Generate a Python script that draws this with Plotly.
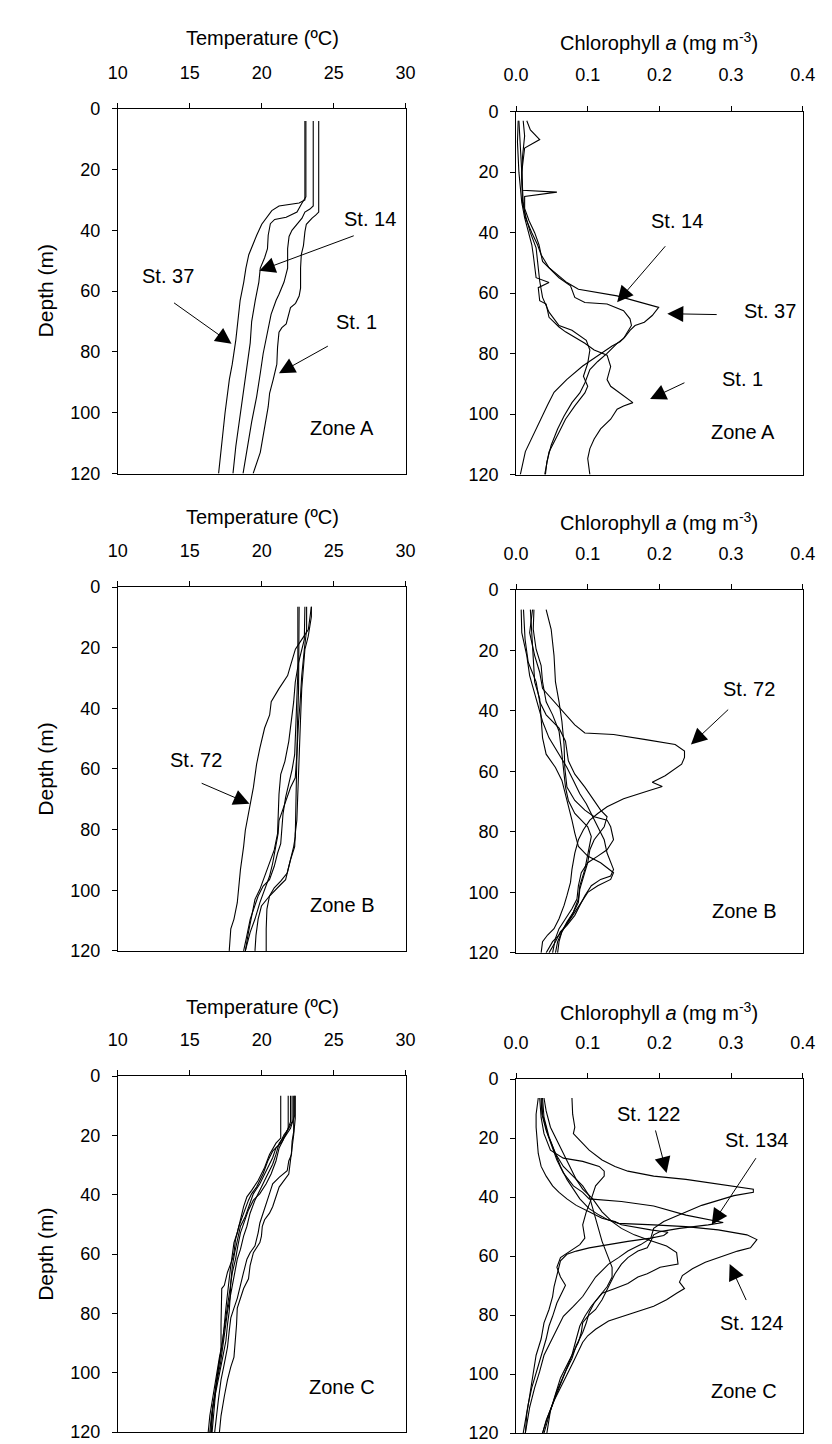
import plotly.graph_objects as go

W, H = 832, 1444
FONT = "Liberation Sans, Arial, sans-serif"

# ---------------- tick values / labels ----------------
T_TICKS = [10, 15, 20, 25, 30]
T_TICK_TEXT = ["10", "15", "20", "25", "30"]
C_TICKS = [0.0, 0.1, 0.2, 0.3, 0.4]
C_TICK_TEXT = ["0.0", "0.1", "0.2", "0.3", "0.4"]
D_TICKS = [0, 20, 40, 60, 80, 100, 120]
D_TICK_TEXT = ["0", "20", "40", "60", "80", "100", "120"]

# ---------------- Zone A : temperature ----------------
A_T37_d = [4, 30, 31, 32, 33.5, 36, 38, 41.6, 46, 48, 52.4, 57, 63, 67.6, 76, 84, 89, 100, 111, 120]
A_T37_v = [23.0, 23.0, 22.6, 21.2, 20.7, 20.3, 20.0, 19.65, 19.3, 19.1, 18.9, 18.75, 18.5, 18.4, 18.2, 17.95, 17.75, 17.45, 17.2, 17.0]
A_T14_d = [4, 29, 31, 34, 35.7, 36.4, 37.8, 41.6, 46, 49, 52.4, 57, 63, 70, 77, 84, 91, 100, 111, 120]
A_T14_v = [23.07, 23.07, 22.8, 22.45, 21.7, 20.9, 20.6, 20.45, 20.4, 20.2, 19.9, 19.8, 19.55, 19.3, 19.2, 19.0, 18.75, 18.5, 18.2, 18.0]
A_Tx_d = [4, 32, 33, 34, 36, 38, 40, 42, 46, 52.4, 57, 61, 63, 67.6, 74, 80.5, 87, 94.6, 103, 112, 120]
A_Tx_v = [23.58, 23.58, 23.35, 23.0, 22.8, 22.45, 22.1, 21.9, 21.8, 21.8, 21.55, 21.2, 21.0, 20.65, 20.4, 20.1, 19.9, 19.65, 19.3, 19.0, 18.7]
A_T1_d = [4, 34, 35, 36, 38, 40.5, 45, 48, 52.4, 59, 61.6, 64, 65.4, 68.6, 70.8, 72, 73.5, 78.4, 84, 89, 93.5, 98, 105.4, 113, 120]
A_T1_v = [23.96, 23.96, 23.75, 23.5, 23.1, 23.0, 22.9, 22.75, 22.7, 22.7, 22.6, 22.35, 22.0, 21.85, 21.7, 21.4, 21.2, 21.1, 21.05, 20.8, 20.55, 20.45, 20.2, 19.9, 19.4]

# ---------------- Zone A : chlorophyll ----------------
A_C37_d = [3, 10, 20, 30, 35, 40, 44, 47.3, 51.6, 56.5, 58.7, 60.9, 64.1, 64.7, 67.4, 69.6, 70.7, 72.3, 74.5, 76.1, 77.5, 80.3, 84.1, 88.5, 92.8, 97, 101.5, 107, 112.4, 120]
A_C37_v = [0.004, 0.006, 0.008, 0.010, 0.013, 0.022, 0.030, 0.035, 0.046, 0.071, 0.087, 0.141, 0.190, 0.199, 0.190, 0.179, 0.166, 0.159, 0.152, 0.145, 0.134, 0.116, 0.093, 0.071, 0.053, 0.044, 0.035, 0.024, 0.013, 0.006]
A_C14_d = [3, 8, 15, 22, 26, 26.6, 28, 32, 36, 40, 44, 49.5, 54.9, 57.6, 61.4, 63.1, 63.6, 65.8, 68.5, 70.7, 73.4, 75.0, 76.6, 79.9, 82.6, 85.3, 89.7, 93, 96.2, 100.6, 104.9, 110.3, 115.8, 120]
A_C14_v = [0.010, 0.012, 0.009, 0.008, 0.009, 0.057, 0.012, 0.012, 0.018, 0.026, 0.032, 0.037, 0.060, 0.076, 0.082, 0.096, 0.127, 0.150, 0.159, 0.161, 0.154, 0.150, 0.141, 0.127, 0.114, 0.103, 0.096, 0.089, 0.078, 0.067, 0.058, 0.049, 0.043, 0.041]
A_C1_d = [3, 10, 20, 30, 35, 40, 44, 47.3, 54.9, 56.5, 58.2, 62.5, 63.6, 68, 71.2, 72.8, 76.6, 78.8, 80.5, 84.3, 88.6, 90.8, 94.0, 96.2, 97.3, 98.4, 101.7, 104.9, 108.2, 111.4, 114.7, 120]
A_C1_v = [0.003, 0.002, 0.004, 0.008, 0.012, 0.018, 0.022, 0.024, 0.028, 0.046, 0.031, 0.033, 0.042, 0.046, 0.060, 0.069, 0.096, 0.109, 0.127, 0.132, 0.127, 0.132, 0.150, 0.163, 0.150, 0.141, 0.132, 0.118, 0.109, 0.103, 0.100, 0.103]
A_Cx_d = [3, 6, 9.2, 12, 20, 30, 35, 40, 45, 56, 61.4, 66.3, 70.7, 72.3, 75.6, 78.8, 83.2, 87.5, 90.8, 93, 97.3, 101.7, 106, 112.5, 120]
A_Cx_v = [0.015, 0.020, 0.033, 0.012, 0.008, 0.009, 0.014, 0.020, 0.028, 0.033, 0.037, 0.046, 0.060, 0.078, 0.098, 0.103, 0.100, 0.094, 0.100, 0.096, 0.082, 0.069, 0.060, 0.046, 0.040]

# ---------------- Zone B : temperature ----------------
B_T72_d = [6.5, 14, 17.2, 20.5, 25.9, 29.2, 33.5, 37.8, 42.2, 46.5, 53.1, 58.5, 66.1, 71.5, 77, 80.2, 85.6, 93.2, 104.1, 109.5, 112.7, 120]
B_T72_v = [23.45, 23.24, 22.8, 22.34, 22.0, 21.8, 21.2, 20.66, 20.55, 20.2, 19.87, 19.64, 19.42, 19.2, 18.97, 18.86, 18.74, 18.52, 18.3, 18.07, 17.85, 17.74]
B_T2_d = [6.5, 14.1, 20.6, 29.3, 37.9, 44.4, 55.3, 62.9, 66.1, 70.5, 74.8, 77, 81.3, 85.6, 91.1, 95.4, 99.7, 104.1, 109.5, 113.8, 120]
B_T2_v = [23.12, 23.12, 22.96, 22.78, 22.67, 22.56, 22.44, 22.33, 22.0, 21.66, 21.32, 21.2, 21.14, 20.99, 20.76, 20.54, 20.2, 19.87, 19.53, 19.2, 18.86]
B_T3_d = [6.5, 22.8, 33.6, 44.4, 55.3, 66.1, 77, 82.4, 85.6, 90, 94.3, 97, 99.2, 101.9, 106.2, 112.7, 120]
B_T3_v = [22.6, 22.6, 22.56, 22.49, 22.44, 22.4, 22.38, 22.33, 22.22, 22.0, 21.77, 21.32, 20.87, 20.54, 20.36, 20.31, 20.31]
B_T4_d = [6.5, 28.2, 44.4, 55.3, 60.2, 64, 69.4, 74.8, 80.2, 84.6, 87.8, 92.1, 96.5, 98.6, 101.9, 105.2, 109.5, 114.9, 120]
B_T4_v = [22.51, 22.51, 22.38, 22.29, 22.11, 21.93, 21.66, 21.48, 21.39, 21.32, 21.1, 20.87, 20.54, 20.1, 19.75, 19.53, 19.2, 18.97, 18.74]
B_T5_d = [6.5, 9.8, 16.3, 20.6, 27.1, 33.6, 44.4, 55.3, 66.1, 77, 81.3, 85.6, 90, 94.3, 96.5, 98.1, 99.7, 101.9, 105.2, 109.5, 114.9, 120]
B_T5_v = [23.45, 23.45, 23.23, 23.0, 22.89, 22.78, 22.69, 22.6, 22.51, 22.44, 22.33, 22.29, 22.0, 21.77, 21.66, 21.32, 20.99, 20.54, 19.98, 19.75, 19.6, 19.53]
B_T6_d = [6.5, 17.3, 24.9, 31.4, 37.9, 44.4, 50.9, 57.5, 61.8, 68.3, 74.8, 81.3, 86.7, 91.1, 95.4, 99.7, 103, 108.4, 113.8, 120]
B_T6_v = [23.0, 22.96, 22.56, 22.33, 22.22, 22.06, 21.88, 21.61, 21.32, 21.2, 21.14, 21.1, 20.87, 20.54, 20.2, 19.87, 19.53, 19.3, 19.08, 18.86]

# ---------------- Zone B : chlorophyll ----------------
B_C72_d = [6.5, 14.1, 21.7, 27.2, 32.6, 38.6, 41.3, 44.6, 47.3, 47.8, 49.5, 51.1, 53.3, 55.4, 57.6, 59.2, 61.4, 63.6, 65.0, 66.3, 67.4, 69, 71.7, 73.9, 76.1, 79.3, 82.6, 87, 92.4, 96.7, 101.1, 104.3, 108.7, 112, 114.1, 116.3, 120]
B_C72_v = [0.023, 0.019, 0.026, 0.033, 0.037, 0.060, 0.069, 0.082, 0.096, 0.136, 0.181, 0.222, 0.235, 0.235, 0.231, 0.222, 0.208, 0.190, 0.204, 0.186, 0.172, 0.150, 0.127, 0.114, 0.103, 0.094, 0.087, 0.082, 0.078, 0.076, 0.071, 0.067, 0.060, 0.053, 0.044, 0.037, 0.035]
B_C2_d = [6.5, 13, 21.7, 30.4, 37, 43.5, 51.1, 58.7, 65.2, 69.6, 72.8, 75, 76.1, 78.3, 82.6, 85.9, 88, 90.2, 93.5, 97.8, 102.2, 105.4, 108.7, 112, 115.2, 120]
B_C2_v = [0.042, 0.049, 0.053, 0.055, 0.060, 0.064, 0.067, 0.068, 0.071, 0.082, 0.096, 0.109, 0.127, 0.132, 0.136, 0.127, 0.114, 0.100, 0.091, 0.087, 0.085, 0.078, 0.069, 0.060, 0.055, 0.051]
B_C3_d = [6.5, 14.1, 21.7, 28.3, 35.9, 43.5, 48.9, 54.3, 58.7, 63, 67.4, 70.7, 73.9, 78.3, 82.6, 87, 92.4, 94.6, 95.7, 97.8, 101.1, 104.3, 107.6, 110.9, 113, 116.3, 120]
B_C3_v = [0.0072, 0.008, 0.015, 0.019, 0.028, 0.037, 0.046, 0.060, 0.071, 0.080, 0.089, 0.098, 0.105, 0.114, 0.123, 0.127, 0.136, 0.132, 0.118, 0.105, 0.096, 0.089, 0.082, 0.071, 0.062, 0.055, 0.046]
B_C4_d = [6.5, 16.3, 23.9, 30.4, 37, 41.3, 45.7, 50, 56.5, 60.9, 65.2, 69.6, 72.8, 75, 78.3, 82.6, 85.9, 90.2, 94.6, 98.9, 103.3, 107.6, 110.9, 114.1, 116.3, 120]
B_C4_v = [0.0104, 0.0126, 0.017, 0.028, 0.033, 0.042, 0.060, 0.069, 0.073, 0.082, 0.096, 0.109, 0.118, 0.127, 0.123, 0.109, 0.103, 0.100, 0.094, 0.089, 0.087, 0.078, 0.069, 0.060, 0.051, 0.042]
B_C5_d = [6.5, 15.2, 23.9, 30.4, 35.9, 42.4, 48.9, 54.3, 58.7, 63, 67.4, 71.7, 76.1, 80.4, 84.8, 88, 90.2, 93.5, 95.7, 97.8, 100, 103.3, 106.5, 109.8, 113, 116.3, 120]
B_C5_v = [0.020, 0.022, 0.024, 0.026, 0.033, 0.035, 0.037, 0.042, 0.055, 0.064, 0.069, 0.073, 0.078, 0.082, 0.087, 0.100, 0.118, 0.136, 0.132, 0.114, 0.100, 0.091, 0.082, 0.073, 0.064, 0.058, 0.055]
B_C6_d = [6.5, 13, 19.6, 25, 30.4, 37, 41.3, 46.7, 54.3, 60.9, 65.2, 69.6, 73.9, 76.1, 78.3, 81.5, 87, 92.4, 97.8, 102.2, 106.5, 109.8, 113, 116.3, 120]
B_C6_v = [0.025, 0.024, 0.028, 0.035, 0.037, 0.042, 0.051, 0.060, 0.064, 0.067, 0.069, 0.073, 0.082, 0.091, 0.100, 0.105, 0.100, 0.096, 0.089, 0.087, 0.080, 0.071, 0.064, 0.060, 0.058]

# ---------------- Zone C : temperature ----------------
C_T1_d = [6.6, 20.9, 22.6, 26.4, 30.8, 35.2, 38.5, 40.7, 44, 48.4, 52.8, 56.1, 59.5, 63.9, 68.3, 72.7, 78.2, 83.7, 89.2, 94.7, 101.3, 107.9, 114.5, 120]
C_T1_v = [21.32, 21.32, 20.99, 20.54, 20.2, 19.75, 19.3, 18.97, 18.74, 18.52, 18.3, 18.07, 17.96, 17.85, 17.74, 17.62, 17.51, 17.4, 17.29, 17.06, 16.84, 16.61, 16.39, 16.28]
C_T2_d = [6.6, 14.3, 19.8, 24.2, 28.6, 33, 37.4, 40.7, 44, 46.2, 48.4, 50.6, 53.9, 56.1, 59.5, 63.9, 68.3, 71.6, 74.9, 78.2, 83.7, 89.2, 94.7, 98, 102.4, 107.9, 114.5, 120]
C_T2_v = [22.33, 22.33, 22.22, 22.11, 22.0, 21.88, 21.21, 20.99, 20.76, 20.54, 20.2, 20.04, 19.98, 19.87, 19.42, 19.19, 19.08, 18.74, 18.52, 18.3, 18.25, 18.18, 18.07, 17.85, 17.62, 17.4, 17.17, 17.06]
C_T3_d = [6.6, 17.6, 22, 24.2, 27.5, 31.9, 36.3, 39.6, 44, 47.3, 50.6, 55, 59.5, 63.9, 69.4, 74.9, 79.3, 83.7, 89.2, 94.7, 100.2, 105.7, 111.2, 120]
C_T3_v = [21.84, 21.84, 21.43, 20.99, 20.76, 20.31, 19.87, 19.42, 19.08, 18.86, 18.52, 18.3, 18.12, 17.96, 17.85, 17.8, 17.74, 17.62, 17.51, 17.29, 17.06, 16.84, 16.61, 16.5]
C_T4_d = [6.6, 15.4, 19.8, 22.6, 26.4, 29.7, 34.1, 38.5, 41.8, 46.2, 50.6, 53.9, 58.4, 61.7, 65, 68.3, 73.8, 79.3, 85.9, 91.4, 96.9, 102.4, 109, 114.5, 120]
C_T4_v = [22.0, 22.0, 21.66, 21.21, 20.99, 20.76, 20.31, 19.87, 19.53, 19.19, 18.97, 18.74, 18.52, 18.3, 18.18, 18.07, 17.85, 17.62, 17.44, 17.29, 17.13, 16.9, 16.68, 16.5, 16.39]
C_T5_d = [6.6, 14.3, 18.7, 22, 26.4, 28.6, 31.9, 34.1, 36.3, 39.6, 42.9, 46.2, 49.5, 52.8, 57.2, 59.5, 61.7, 66.1, 70.5, 74.9, 78.2, 81.5, 85.9, 91.4, 96.9, 102.4, 109, 114.5, 120]
C_T5_v = [22.22, 22.22, 22.22, 22.11, 22.07, 21.88, 21.77, 21.21, 20.76, 20.54, 20.31, 20.09, 19.87, 19.75, 19.53, 19.19, 18.97, 18.74, 18.52, 18.3, 18.07, 17.85, 17.74, 17.62, 17.4, 17.17, 16.99, 16.84, 16.73]
C_T6_d = [6.6, 15.4, 17.6, 19.8, 23.1, 25.3, 28.6, 33, 37.4, 39.6, 41.8, 46.2, 50.6, 55, 59.5, 61.7, 66.1, 70.5, 71.6, 83.7, 92.5, 98, 103.5, 110.1, 120]
C_T6_v = [22.11, 22.11, 21.88, 21.55, 21.21, 20.76, 20.42, 20.09, 19.64, 19.3, 19.08, 18.74, 18.41, 18.18, 18.07, 17.96, 17.62, 17.4, 17.22, 17.17, 17.17, 16.99, 16.84, 16.73, 16.55]
C_T7_d = [6.6, 13.2, 17.6, 20.9, 24.2, 28.6, 33, 36.3, 39.6, 41.8, 45.1, 49.5, 52.8, 57.2, 61.7, 66.1, 71.6, 77.1, 83.7, 89.2, 94.7, 100.2, 106.8, 113.4, 120]
C_T7_v = [22.29, 22.29, 22.0, 21.55, 21.21, 20.99, 20.65, 20.31, 19.87, 19.42, 19.08, 18.74, 18.52, 18.34, 18.18, 17.96, 17.8, 17.62, 17.44, 17.29, 17.13, 16.95, 16.73, 16.55, 16.46]

# ---------------- Zone C : chlorophyll ----------------
C_C122_d = [6.4, 11.9, 16.3, 18.5, 20.8, 24.1, 27.4, 29.6, 31.2, 32.9, 34, 35.7, 37.3, 38.4, 39.5, 42.8, 46.1, 48.3, 50.6, 53.9, 56.1, 58.3, 60.5, 62.7, 64.9, 67.1, 70.4, 73.7, 77, 80.4, 84.8, 89.2, 93.6, 99.1, 104.6, 111.3, 120]
C_C122_v = [0.078, 0.079, 0.082, 0.080, 0.089, 0.102, 0.120, 0.138, 0.156, 0.192, 0.237, 0.282, 0.331, 0.331, 0.304, 0.259, 0.228, 0.206, 0.192, 0.188, 0.174, 0.156, 0.143, 0.129, 0.120, 0.111, 0.102, 0.093, 0.080, 0.066, 0.057, 0.048, 0.039, 0.033, 0.026, 0.019, 0.013]
C_C124_d = [6.4, 11.9, 18.5, 24.1, 29.6, 34, 37.3, 40.6, 43.9, 46.1, 47.8, 48.9, 49.4, 50, 51.1, 52.8, 54.4, 57.2, 58.3, 60.5, 62.1, 64.3, 66.6, 68.8, 71, 72.6, 74.8, 77, 78.7, 80.4, 82, 84.8, 87, 89.2, 92.5, 95.8, 100.2, 104.6, 109, 114.6, 120]
C_C124_v = [0.036, 0.037, 0.044, 0.053, 0.062, 0.071, 0.080, 0.089, 0.102, 0.116, 0.129, 0.143, 0.192, 0.237, 0.282, 0.322, 0.336, 0.327, 0.309, 0.282, 0.264, 0.246, 0.232, 0.228, 0.235, 0.224, 0.210, 0.192, 0.170, 0.147, 0.129, 0.111, 0.100, 0.093, 0.087, 0.080, 0.071, 0.062, 0.053, 0.044, 0.037]
C_C134_d = [6.4, 11.9, 17.4, 23, 27.4, 31.8, 36.2, 38.4, 40.6, 41.5, 43, 46.1, 47.8, 48.6, 49.4, 50.6, 51.7, 52.8, 55, 57.2, 58.3, 60.5, 62.7, 66, 70.4, 74.8, 78.1, 80.4, 82.6, 85.9, 89.2, 92.5, 96.9, 101.3, 106.8, 112.4, 120]
C_C134_v = [0.035, 0.036, 0.042, 0.051, 0.057, 0.066, 0.080, 0.093, 0.102, 0.147, 0.192, 0.237, 0.273, 0.289, 0.268, 0.228, 0.201, 0.192, 0.188, 0.183, 0.170, 0.156, 0.147, 0.138, 0.129, 0.120, 0.111, 0.100, 0.093, 0.091, 0.087, 0.080, 0.071, 0.062, 0.055, 0.048, 0.043]
C_C4_d = [6.4, 10.8, 16.3, 20.8, 25.2, 29.6, 34, 37.3, 40.6, 45, 48.3, 50.6, 52.8, 54.4, 55.5, 56.6, 58.8, 62.7, 63.8, 66, 67.1, 69.3, 71, 72.6, 75.9, 79.2, 82.6, 85.9, 90.3, 94.7, 99.1, 104.6, 110.2, 115.7, 120]
C_C4_v = [0.039, 0.042, 0.048, 0.057, 0.066, 0.075, 0.084, 0.093, 0.107, 0.120, 0.134, 0.147, 0.165, 0.183, 0.197, 0.210, 0.224, 0.226, 0.201, 0.183, 0.170, 0.156, 0.138, 0.120, 0.109, 0.102, 0.098, 0.093, 0.084, 0.078, 0.069, 0.060, 0.051, 0.042, 0.037]
C_C5_d = [6.4, 13, 18.5, 24.1, 26.8, 27.9, 29.6, 31.2, 32.9, 36.2, 40.6, 45, 49.4, 53.9, 56.1, 58.3, 60.5, 63.8, 67.1, 69.9, 72.6, 75.9, 80.4, 83.7, 88.1, 93.6, 99.1, 104.6, 110.2, 115.7, 120]
C_C5_v = [0.033, 0.035, 0.039, 0.048, 0.066, 0.093, 0.116, 0.123, 0.123, 0.111, 0.105, 0.098, 0.093, 0.096, 0.089, 0.075, 0.062, 0.057, 0.062, 0.069, 0.064, 0.057, 0.051, 0.046, 0.042, 0.035, 0.028, 0.022, 0.017, 0.013, 0.010]
C_C6_d = [6.4, 11.9, 16.3, 20.8, 25.2, 29.6, 32.9, 36.2, 38.4, 40.6, 42.8, 45, 47.2, 48.3, 49.4, 51.1, 51.9, 53, 53.9, 55, 56.1, 57.2, 58.3, 59.4, 61.6, 66, 70.4, 73.7, 78.1, 82.6, 88.1, 93.6, 100.2, 106.8, 113.5, 120]
C_C6_v = [0.031, 0.028, 0.028, 0.030, 0.031, 0.035, 0.042, 0.051, 0.060, 0.071, 0.084, 0.102, 0.120, 0.138, 0.147, 0.188, 0.212, 0.206, 0.188, 0.156, 0.129, 0.102, 0.084, 0.071, 0.062, 0.057, 0.053, 0.051, 0.046, 0.039, 0.035, 0.028, 0.024, 0.019, 0.015, 0.013]
C_C7_d = [6.4, 13, 19.6, 25.2, 29.6, 32.9, 36.2, 39.5, 43.9, 49.4, 55, 59.4, 63.8, 67.1, 70.4, 73.7, 77, 80.4, 83.7, 88.1, 93.6, 99.1, 105.7, 112.4, 120]
C_C7_v = [0.037, 0.039, 0.046, 0.055, 0.066, 0.080, 0.093, 0.102, 0.107, 0.114, 0.120, 0.127, 0.134, 0.134, 0.127, 0.116, 0.105, 0.096, 0.089, 0.084, 0.078, 0.069, 0.057, 0.048, 0.039]

# ---------------- layout geometry (pixels) ----------------
def xd(l, r):
    return [l / W, r / W]


def yd(t, b):
    return [1 - b / H, 1 - t / H]


panels = [
    # (x domain px, y domain px, kind)
    ((100, 397), (92, 462), "T"),
    ((511, 807), (95, 463), "C"),
    ((100, 397), (577, 946), "T"),
    ((511, 807), (580, 948), "C"),
    ((100, 397), (1073, 1434), "T"),
    ((511, 807), (1076, 1435), "C"),
]

panel_series = [
    [(A_T37_v, A_T37_d), (A_T14_v, A_T14_d), (A_Tx_v, A_Tx_d), (A_T1_v, A_T1_d)],
    [(A_C37_v, A_C37_d), (A_C14_v, A_C14_d), (A_C1_v, A_C1_d), (A_Cx_v, A_Cx_d)],
    [(B_T72_v, B_T72_d), (B_T2_v, B_T2_d), (B_T3_v, B_T3_d), (B_T4_v, B_T4_d), (B_T5_v, B_T5_d), (B_T6_v, B_T6_d)],
    [(B_C72_v, B_C72_d), (B_C2_v, B_C2_d), (B_C3_v, B_C3_d), (B_C4_v, B_C4_d), (B_C5_v, B_C5_d), (B_C6_v, B_C6_d)],
    [(C_T1_v, C_T1_d), (C_T2_v, C_T2_d), (C_T3_v, C_T3_d), (C_T4_v, C_T4_d), (C_T5_v, C_T5_d), (C_T6_v, C_T6_d), (C_T7_v, C_T7_d)],
    [(C_C122_v, C_C122_d), (C_C124_v, C_C124_d), (C_C134_v, C_C134_d), (C_C4_v, C_C4_d), (C_C5_v, C_C5_d), (C_C6_v, C_C6_d), (C_C7_v, C_C7_d)],
]

fig = go.Figure()
layout = dict(
    width=W, height=H, autosize=False,
    margin=dict(l=0, r=0, t=0, b=0, pad=0),
    paper_bgcolor="white", plot_bgcolor="white",
    showlegend=False,
    font=dict(family=FONT, color="black", size=18),
)

TICKFONT = dict(family=FONT, size=18, color="black")

for i, ((xl, xr), (yt, yb), kind) in enumerate(panels):
    n = i + 1
    xs = "x" if n == 1 else f"x{n}"
    ys = "y" if n == 1 else f"y{n}"
    xkey = "xaxis" if n == 1 else f"xaxis{n}"
    ykey = "yaxis" if n == 1 else f"yaxis{n}"
    if kind == "T":
        xr_ = [10, 30]
        tv, tt = T_TICKS, T_TICK_TEXT
    else:
        xr_ = [0, 0.4]
        tv, tt = C_TICKS, C_TICK_TEXT
    layout[xkey] = dict(
        domain=xd(xl, xr), anchor=ys, side="top", range=xr_,
        tickmode="array", tickvals=tv, ticktext=tt,
        ticks="outside", ticklen=5, tickwidth=1, tickcolor="black",
        showline=True, linecolor="black", linewidth=1, mirror=True,
        showgrid=False, zeroline=False, tickfont=TICKFONT,
        ticklabelstandoff=17, fixedrange=True,
    )
    layout[ykey] = dict(
        domain=yd(yt, yb), anchor=xs, range=[120, 0],
        tickmode="array", tickvals=D_TICKS, ticktext=D_TICK_TEXT,
        ticks="outside", ticklen=5, tickwidth=1, tickcolor="black",
        showline=True, linecolor="black", linewidth=1, mirror=True,
        showgrid=False, zeroline=False, tickfont=TICKFONT,
        ticklabelstandoff=8, fixedrange=True,
    )
    for v, d in panel_series[i]:
        fig.add_trace(go.Scatter(
            x=v, y=d, mode="lines", xaxis=xs, yaxis=ys,
            line=dict(color="black", width=1.1),
            hoverinfo="skip", showlegend=False,
        ))

annotations = []

# axis titles (paper pixel positions)
TITLE_FONT = dict(family=FONT, size=20, color="black")
title_specs = [
    ("Temperature (ºC)", 249, 20),
    ("Chlorophyll <i>a</i> (mg m<sup>-3</sup>)", 659, 24),
    ("Temperature (ºC)", 249, 506),
    ("Chlorophyll <i>a</i> (mg m<sup>-3</sup>)", 659, 511),
    ("Temperature (ºC)", 249, 1003),
    ("Chlorophyll <i>a</i> (mg m<sup>-3</sup>)", 659, 1007),
]
for txt, px, py in title_specs:
    annotations.append(dict(
        text=txt, xref="paper", yref="paper", x=px / W, y=1 - py / H,
        xanchor="center", yanchor="middle", showarrow=False, font=TITLE_FONT,
    ))
for py in [277, 762, 1254]:
    annotations.append(dict(
        text="Depth (m)", xref="paper", yref="paper", x=25 / W, y=1 - py / H,
        xanchor="center", yanchor="middle", textangle=-90, showarrow=False,
        font=dict(family=FONT, size=21, color="black"),
    ))

LABEL_FONT = dict(family=FONT, size=20, color="black")

# station labels / zone labels: (panel, text, x, y)
labels = [
    (1, "St. 37", 13.5, 54.9),
    (1, "St. 14", 27.5, 36.4),
    (1, "St. 1", 26.6, 70.3),
    (1, "Zone A", 25.6, 104.9),
    (2, "St. 14", 0.224, 36.2),
    (2, "St. 37", 0.354, 66.0),
    (2, "St. 1", 0.316, 88.5),
    (2, "Zone A", 0.316, 105.9),
    (3, "St. 72", 15.4, 57.2),
    (3, "Zone B", 25.6, 104.9),
    (4, "St. 72", 0.325, 32.6),
    (4, "Zone B", 0.318, 106.0),
    (5, "Zone C", 25.6, 104.9),
    (6, "St. 122", 0.185, 11.9),
    (6, "St. 134", 0.336, 20.8),
    (6, "St. 124", 0.329, 82.6),
    (6, "Zone C", 0.318, 105.7),
]
for n, txt, x, y in labels:
    annotations.append(dict(
        text=txt, xref="x" if n == 1 else f"x{n}", yref="y" if n == 1 else f"y{n}",
        x=x, y=y, xanchor="center", yanchor="middle", showarrow=False, font=LABEL_FONT,
    ))

# arrows: (panel, tail x, tail y, tip x, tip y)
arrows = [
    (1, 13.8, 63.5, 17.9, 77.3),
    (1, 26.5, 41.6, 19.83, 53.3),
    (1, 24.7, 77.8, 21.2, 87.0),
    (2, 0.210, 44.0, 0.141, 63.0),
    (2, 0.282, 67.1, 0.211, 66.8),
    (2, 0.237, 89.4, 0.187, 95.0),
    (3, 15.72, 64.5, 19.15, 71.5),
    (4, 0.298, 39.1, 0.244, 51.1),
    (6, 0.194, 16.9, 0.210, 31.8),
    (6, 0.336, 26.3, 0.273, 49.4),
    (6, 0.322, 75.4, 0.298, 62.7),
]
for n, tx, ty, hx, hy in arrows:
    xr = "x" if n == 1 else f"x{n}"
    yr = "y" if n == 1 else f"y{n}"
    annotations.append(dict(
        text="", xref=xr, yref=yr, x=hx, y=hy, axref=xr, ayref=yr, ax=tx, ay=ty,
        showarrow=True, arrowhead=2, arrowsize=3.2, arrowwidth=1, arrowcolor="black",
        standoff=0, startstandoff=0,
    ))

layout["annotations"] = annotations
fig.update_layout(**layout)
fig.write_html("out.html")
